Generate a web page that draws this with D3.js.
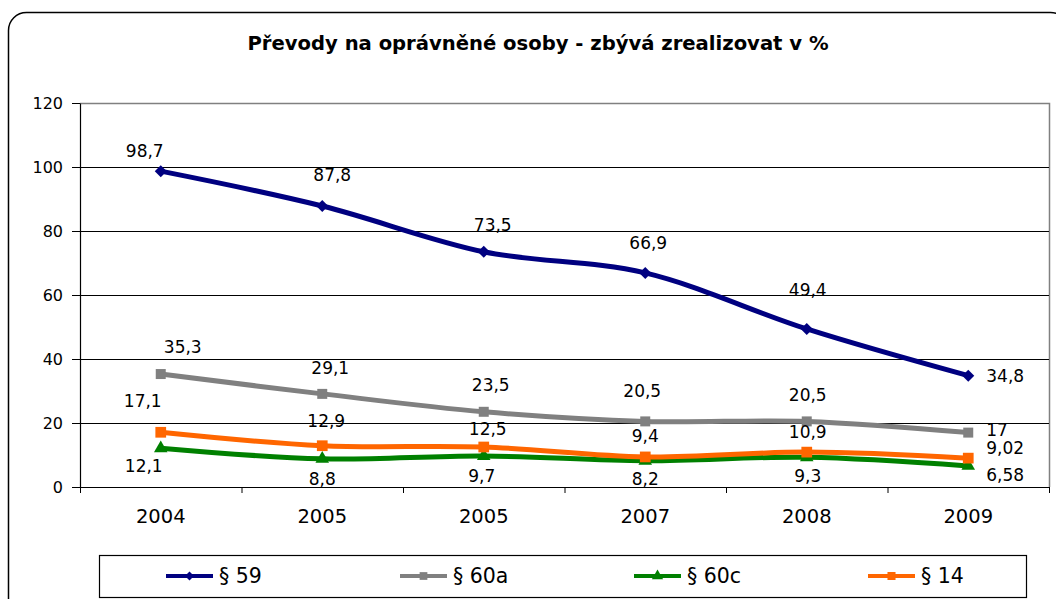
<!DOCTYPE html>
<html>
<head>
<meta charset="utf-8">
<script src="https://cdn.jsdelivr.net/npm/d3@7"></script>
<style>
  html, body { margin: 0; padding: 0; background: #fff; }
  svg { display: block; font-family: "DejaVu Sans", sans-serif; }
</style>
</head>
<body>
<svg width="1056" height="599"></svg>
<script>
// chart values
var categories = ["2004", "2005", "2005", "2007", "2008", "2009"];
var seriesNames = ["§ 59", "§ 60a", "§ 60c", "§ 14"];
var s59  = [98.7, 87.8, 73.5, 66.9, 49.4, 34.8];
var s60a = [35.3, 29.1, 23.5, 20.5, 20.5, 17];
var s60c = [12.1, 8.8, 9.7, 8.2, 9.3, 6.58];
var s14  = [17.1, 12.9, 12.5, 9.4, 10.9, 9.02];
var yTicks = [0, 20, 40, 60, 80, 100, 120];

// look of each series
var colors = ["#000080", "#808080", "#008000", "#FF6600"];
var symbols = [d3.symbolSquare, d3.symbolSquare, d3.symbolTriangle, d3.symbolSquare];
var symRot = [45, 0, 0, 0];
var symSize = [72, 100, 80, 115];
var legSize = [40, 60, 55, 65];

// hand placed data labels (offsets from the point, like in the original sheet)
var lblDx = [
    [-16, 10, 9, 3, 1, 18],
    [22, 8, 7, -3, 1, 18],
    [-17, 0, -2, 0, 1, 18],
    [-18, 4, 4, 0, 1, 18]
];
var lblDy = [
    [-20, -31, -27, -30, -39, 0],
    [-27, -26, -27, -30, -26, -3],
    [18, 20, 20, 18, 19, 9],
    [-31, -25, -18, -21, -20, -10]
];

var svg = d3.select("svg");
var pLeft = 80, pRight = 1049, pTop = 103, pBottom = 487;

// outer chart frame
svg.append("rect")
    .attr("x", 8.5).attr("y", 12.5)
    .attr("width", 1060).attr("height", 610)
    .attr("rx", 18).attr("ry", 18)
    .attr("fill", "#fff")
    .attr("stroke", "#000").attr("stroke-width", 1.5);

svg.append("text")
    .attr("x", 538).attr("y", 50)
    .attr("text-anchor", "middle")
    .style("font-size", "19.6px")
    .style("font-weight", "bold")
    .text("Převody na oprávněné osoby - zbývá zrealizovat v %");

var x = d3.scaleBand().domain(d3.range(categories.length)).range([pLeft, pRight]);
var xb = d3.scaleLinear().domain([0, categories.length]).range([pLeft, pRight]);
var y = d3.scaleLinear().domain([0, 120]).range([pBottom, pTop]);
function cx(i) { return x(i) + x.bandwidth() / 2; }

// plot area border (gray top/right)
svg.append("path")
    .attr("d", "M" + pLeft + "," + (pTop + 0.5) + "H" + (pRight + 0.5) + "V" + pBottom)
    .attr("fill", "none").attr("stroke", "#808080").attr("stroke-width", 1.5);

// gridlines
svg.append("g")
    .attr("transform", "translate(" + pLeft + ",0)")
    .call(d3.axisLeft(y).tickValues(yTicks.slice(1, -1)).tickSize(-(pRight - pLeft)).tickFormat(""))
    .call(function(g) { g.select(".domain").remove(); })
    .selectAll("line").attr("stroke", "#000");

// y axis
var yAxis = svg.append("g")
    .attr("transform", "translate(" + pLeft + ",0)")
    .call(d3.axisLeft(y).tickValues(yTicks).tickSize(8).tickPadding(9).tickSizeOuter(0));
yAxis.selectAll("text").style("font-size", "16px").attr("fill", "#000").style("font-family", "DejaVu Sans");
yAxis.select(".domain").attr("stroke-width", 1.2);

// x axis: boundary ticks + centred labels
var xTicksG = svg.append("g")
    .attr("transform", "translate(0," + pBottom + ")")
    .call(d3.axisBottom(xb).tickValues(d3.range(categories.length + 1)).tickSize(6).tickFormat("").tickSizeOuter(0));
xTicksG.select(".domain").attr("stroke-width", 1.2);

var xAxis = svg.append("g")
    .attr("transform", "translate(0," + pBottom + ")")
    .call(d3.axisBottom(x).tickSize(0).tickPadding(22).tickFormat(function(i) { return categories[i]; }));
xAxis.select(".domain").remove();
xAxis.selectAll("text").style("font-size", "19.5px").attr("fill", "#000").style("font-family", "DejaVu Sans");

// series
var allSeries = [s59, s60a, s60c, s14];
var line = d3.line()
    .x(function(d, i) { return cx(i); })
    .y(function(d) { return y(d); })
    .curve(d3.curveCardinal);

allSeries.forEach(function(vals, s) {
    svg.append("path")
        .datum(vals)
        .attr("d", line)
        .attr("fill", "none")
        .attr("stroke", colors[s])
        .attr("stroke-width", 5)
        .attr("stroke-linejoin", "round");

    svg.selectAll(".m" + s)
        .data(vals)
        .enter().append("path")
        .attr("class", "m" + s)
        .attr("transform", function(d, i) {
            return "translate(" + cx(i) + "," + y(d) + ") rotate(" + symRot[s] + ")";
        })
        .attr("d", d3.symbol().type(symbols[s]).size(symSize[s]))
        .attr("fill", colors[s]);
});

// data labels on top
allSeries.forEach(function(vals, s) {
    svg.selectAll(".l" + s)
        .data(vals)
        .enter().append("text")
        .attr("class", "l" + s)
        .attr("x", function(d, i) { return cx(i) + lblDx[s][i]; })
        .attr("y", function(d, i) { return y(d) + lblDy[s][i]; })
        .attr("dy", "0.35em")
        .attr("text-anchor", function(d, i) { return i == vals.length - 1 ? "start" : "middle"; })
        .style("font-size", "17px")
        .text(function(d) { return String(d).replace(".", ","); });
});

// legend
svg.append("rect")
    .attr("x", 99.5).attr("y", 555.5)
    .attr("width", 927).attr("height", 42)
    .attr("fill", "#fff").attr("stroke", "#000").attr("stroke-width", 1.2);

var leg = svg.selectAll(".leg")
    .data(seriesNames)
    .enter().append("g")
    .attr("class", "leg")
    .attr("transform", function(d, i) { return "translate(" + (166 + i * 234) + ",576)"; });

leg.append("line")
    .attr("x1", 0).attr("x2", 47)
    .attr("stroke", function(d, i) { return colors[i]; })
    .attr("stroke-width", 4);
leg.append("path")
    .attr("transform", function(d, i) { return "translate(23.5,0) rotate(" + symRot[i] + ")"; })
    .attr("d", function(d, i) { return d3.symbol().type(symbols[i]).size(legSize[i])(); })
    .attr("fill", function(d, i) { return colors[i]; });
leg.append("text")
    .attr("x", 53).attr("dy", "0.35em")
    .style("font-size", "20.5px")
    .text(function(d) { return d; });
</script>
</body>
</html>
